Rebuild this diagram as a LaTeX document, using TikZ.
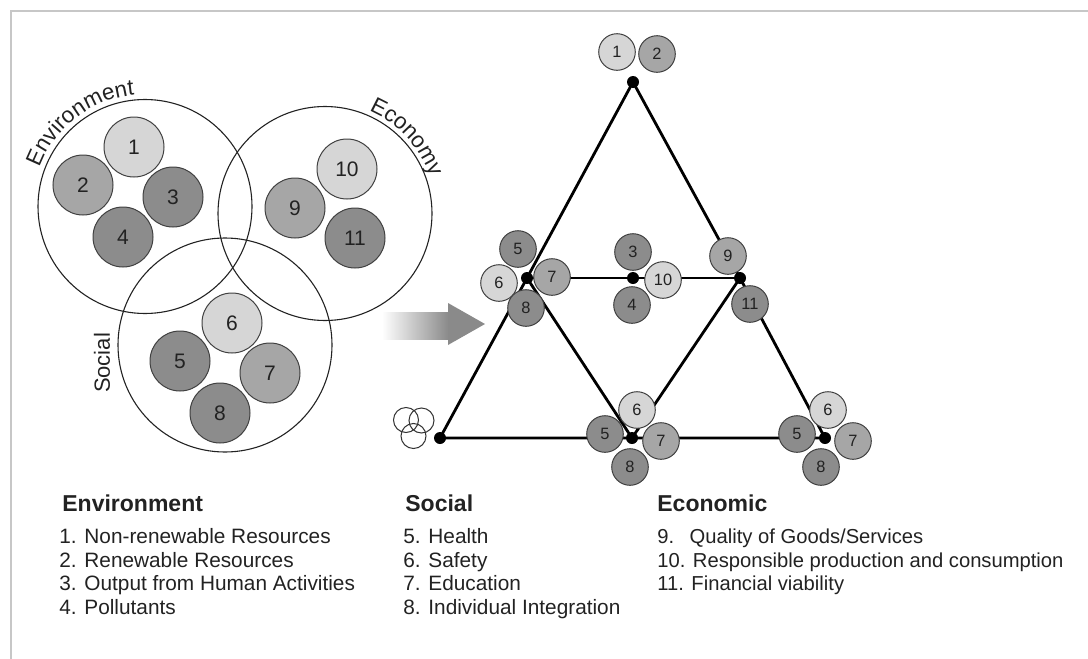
\documentclass[tikz,border=0pt]{standalone}
\usepackage{fontspec}
\setmainfont{Liberation Sans}
\usetikzlibrary{decorations.text}
\definecolor{palefill}{HTML}{D6D6D6}
\definecolor{midfill}{HTML}{A6A6A6}
\definecolor{deepfill}{HTML}{8C8C8C}
\definecolor{ink}{HTML}{222222}
\definecolor{arrowgray}{HTML}{8A8A8A}
\tikzset{
  ring/.style={circle,draw=ink,line width=0.55pt,minimum size=107pt,inner sep=0pt},
  venncirc/.style={circle,draw=black!75,line width=0.5pt,minimum size=30pt,inner sep=0pt,text=ink,font=\fontsize{10.5}{12}\selectfont},
  tricirc/.style={circle,draw=black!75,line width=0.5pt,minimum size=18.3pt,inner sep=0pt,text=ink,font=\fontsize{8.2}{9}\selectfont},
  pale/.style={fill=palefill},
  middle/.style={fill=midfill},
  deep/.style={fill=deepfill},
  edge/.style={line width=1.4pt,black},
  joint/.style={circle,fill=black,inner sep=0pt,minimum size=6pt},
  heading/.style={anchor=base west,inner sep=0pt,text=ink,font=\fontsize{11.5}{13}\selectfont\bfseries},
  item/.style={anchor=base west,inner sep=0pt,text=ink,font=\fontsize{10.4}{12}\selectfont}
}
\begin{document}
\begin{tikzpicture}[x=0.5pt,y=-0.5pt]
    \useasboundingbox (0,0) rectangle (1088,659);
    \draw[black!22,line width=0.75pt] (11,659) -- (11,11) -- (1088,11);

    \node[ring] (venv) at (145,206.5) {};
    \node[ring] (veco) at (325,213.5) {};
    \node[ring] (vsoc) at (225,345) {};
    \path[decorate,decoration={text along path,text align=center,text={|\fontsize{11.2}{13}\selectfont\color{ink}|Environment}}] (venv.center) ++(-162:112) arc[start angle=-162,end angle=-93,radius=112];
    \path[decorate,decoration={text along path,text align=center,text={|\fontsize{11.2}{13}\selectfont\color{ink}|Economy}}] (veco.center) ++(-70:112) arc[start angle=-70,end angle=-16,radius=112];
    \node[rotate=90,text=ink,font=\fontsize{11}{13}\selectfont] (soclabel) at (102,363) {Social};

    \node[venncirc,pale] (v1) at (134,147) {1};
    \node[venncirc,middle] (v2) at (83,185) {2};
    \node[venncirc,deep] (v3) at (173,197) {3};
    \node[venncirc,deep] (v4) at (123,237) {4};
    \node[venncirc,pale] (v10) at (347,169) {10};
    \node[venncirc,middle] (v9) at (295,208) {9};
    \node[venncirc,deep] (v11) at (355,238) {11};
    \node[venncirc,pale] (v6) at (232,323) {6};
    \node[venncirc,deep] (v5) at (180,361) {5};
    \node[venncirc,middle] (v7) at (270,373) {7};
    \node[venncirc,deep] (v8) at (220,413) {8};

    \shade[left color=white,right color=arrowgray] (382,312) -- (448.5,312) -- (448.5,339) -- (382,339) -- cycle;
    \fill[arrowgray] (448,303) -- (485,324) -- (448,345) -- cycle;

    \draw[black!80,line width=0.5pt] (406,420) circle[radius=12.5];
    \draw[black!80,line width=0.5pt] (421.5,420.5) circle[radius=12.5];
    \draw[black!80,line width=0.5pt] (413.5,436) circle[radius=12.5];

    \coordinate (top) at (633,82);
    \coordinate (lm) at (527,278);
    \coordinate (cm) at (633,278);
    \coordinate (rm) at (740,278);
    \coordinate (bl) at (440,438);
    \coordinate (bm) at (632,438);
    \coordinate (br) at (825,438);
    \draw[edge] (top) -- (lm) -- (bl) -- (bm) -- (br) -- (rm) -- cycle;
    \draw[edge] (lm) -- (cm) -- (rm);
    \draw[edge] (lm) -- (bm) -- (rm);

    \node[tricirc,pale] (a1) at (617,52) {1};
    \node[tricirc,middle] (a2) at (657,54) {2};
    \node[tricirc,deep] (b5) at (518,249) {5};
    \node[tricirc,pale] (b6) at (499,283) {6};
    \node[tricirc,middle] (b7) at (552,277) {7};
    \node[tricirc,deep] (b8) at (526,308) {8};
    \node[tricirc,deep] (c3) at (633,252) {3};
    \node[tricirc,pale] (c10) at (663,280) {10};
    \node[tricirc,deep] (c4) at (632,305) {4};
    \node[tricirc,middle] (d9) at (728,256) {9};
    \node[tricirc,deep] (d11) at (750,304) {11};
    \node[tricirc,pale] (e6) at (637,410) {6};
    \node[tricirc,deep] (e5) at (605,434) {5};
    \node[tricirc,middle] (e7) at (661,441) {7};
    \node[tricirc,deep] (e8) at (630,467) {8};
    \node[tricirc,pale] (f6) at (828,410) {6};
    \node[tricirc,deep] (f5) at (797,434) {5};
    \node[tricirc,middle] (f7) at (853,441) {7};
    \node[tricirc,deep] (f8) at (821,467) {8};

    \node[joint] (jtop) at (top) {};
    \node[joint] (jlm) at (lm) {};
    \node[joint] (jcm) at (cm) {};
    \node[joint] (jrm) at (rm) {};
    \node[joint] (jbl) at (bl) {};
    \node[joint] (jbm) at (bm) {};
    \node[joint] (jbr) at (br) {};

    \node[heading] (envhead) at (62,511) {Environment};
    \node[item] (env1) at (59,543) {1. Non-renewable Resources};
    \node[item] (env2) at (59,567) {2. Renewable Resources};
    \node[item] (env3) at (59,590) {3. Output from Human Activities};
    \node[item] (env4) at (59,614) {4. Pollutants};

    \node[heading] (sochead) at (405,511) {Social};
    \node[item] (soc5) at (403,543) {5. Health};
    \node[item] (soc6) at (403,567) {6. Safety};
    \node[item] (soc7) at (403,590) {7. Education};
    \node[item] (soc8) at (403,614) {8. Individual Integration};

    \node[heading] (ecohead) at (657,511) {Economic};
    \node[item,font=\fontsize{10.1}{12}\selectfont] (eco9) at (657,543) {\makebox[1.6em][l]{9.}Quality of Goods/Services};
    \node[item,font=\fontsize{10.1}{12}\selectfont] (eco10) at (657,567) {10. Responsible production and consumption};
    \node[item,font=\fontsize{10.1}{12}\selectfont] (eco11) at (657,590) {11. Financial viability};
\end{tikzpicture}
\end{document}
